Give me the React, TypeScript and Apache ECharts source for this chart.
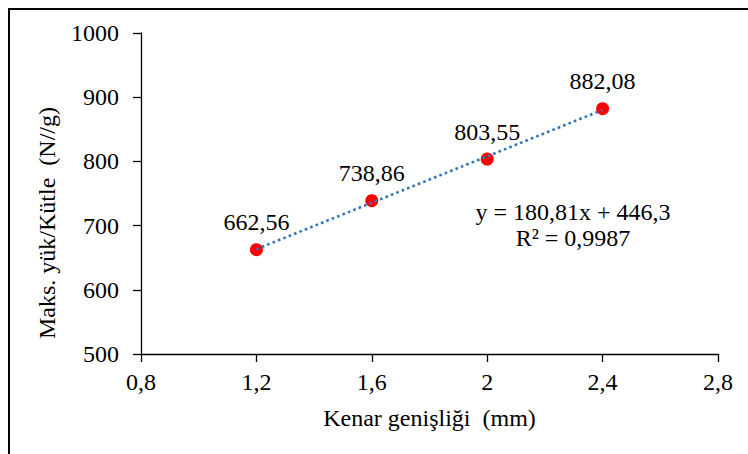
import React, { useEffect, useRef } from "react";
import * as echarts from "echarts";

const widths = [1.2, 1.6, 2.0, 2.4];
const loads = [662.56, 738.86, 803.55, 882.08];
const trendX = [1.2, 2.4];
const trendY = [663.3, 880.2];
const equationLines = ["y = 180,81x + 446,3", "R² = 0,9987"];
const xTitle = "Kenar genişliği  (mm)";
const yTitle = "Maks. yük/Kütle  (N//g)";

const FONT = "Liberation Serif";
const fmt = (v: number) => {
  const s = Number.isInteger(v) ? String(v) : String(+v.toFixed(2));
  return s.replace(".", ",");
};

export default function App() {
  const ref = useRef<HTMLDivElement>(null);
  useEffect(() => {
    if (!ref.current) return;
    const chart = echarts.init(ref.current, null, { renderer: "svg" });
    chart.setOption({
      animation: false,
      backgroundColor: "#fff",
      textStyle: { fontFamily: FONT },
      grid: { left: 141, right: 30, top: 33, bottom: 100 },
      xAxis: {
        type: "value",
        min: 0.8,
        max: 2.8,
        interval: 0.4,
        splitLine: { show: false },
        axisLine: { lineStyle: { color: "#000", width: 1.3 } },
        axisTick: { show: true, length: 8, inside: false, lineStyle: { color: "#000", width: 1.3 } },
        axisLabel: {
          color: "#000",
          fontFamily: FONT,
          fontSize: 24,
          margin: 16,
          formatter: (v: number) => fmt(v),
        },
        name: xTitle,
        nameLocation: "middle",
        nameGap: 52,
        nameTextStyle: { color: "#000", fontFamily: FONT, fontSize: 24 },
      },
      yAxis: {
        type: "value",
        min: 500,
        max: 1000,
        interval: 100,
        splitLine: { show: false },
        axisLine: { show: true, lineStyle: { color: "#000", width: 1.3 } },
        axisTick: { show: true, length: 8, lineStyle: { color: "#000", width: 1.3 } },
        axisLabel: {
          color: "#000",
          fontFamily: FONT,
          fontSize: 24,
          margin: 22,
          formatter: (v: number) => String(v),
        },
      },
      series: [
        {
          type: "scatter",
          data: widths.map((w, i) => [w, loads[i]]),
          symbol: "circle",
          symbolSize: 13,
          itemStyle: { color: "#ff0000", opacity: 1 },
          z: 2,
          label: {
            show: true,
            position: "top",
            distance: 9,
            color: "#000",
            fontFamily: FONT,
            fontSize: 24,
            formatter: (p: any) => fmt(p.value[1]),
          },
        },
        {
          type: "line",
          data: trendX.map((x, i) => [x, trendY[i]]),
          symbol: "none",
          z: 3,
          lineStyle: { color: "#2E75B6", width: 2.6, type: [2.6, 3.2] },
        },
      ],
      graphic: [
        {
          type: "rect",
          shape: { x: 9, y: 9, width: 800, height: 500 },
          style: { fill: "none", stroke: "#000", lineWidth: 2 },
        },
        {
          type: "text",
          x: 47,
          y: 223,
          rotation: Math.PI / 2,
          style: {
            text: yTitle,
            fill: "#000",
            fontFamily: FONT,
            fontSize: 24,
            align: "center",
            verticalAlign: "middle",
          },
        },
        {
          type: "text",
          x: 573,
          y: 212,
          style: {
            text: equationLines[0],
            fill: "#000",
            fontFamily: FONT,
            fontSize: 24,
            align: "center",
            verticalAlign: "middle",
          },
        },
        {
          type: "text",
          x: 573,
          y: 238,
          style: {
            text: equationLines[1],
            fill: "#000",
            fontFamily: FONT,
            fontSize: 24,
            align: "center",
            verticalAlign: "middle",
          },
        },
      ],
    });
    return () => chart.dispose();
  }, []);
  return (
    <div
      ref={ref}
      style={{ position: "absolute", left: 0, top: 0, width: 748, height: 454 }}
    />
  );
}
